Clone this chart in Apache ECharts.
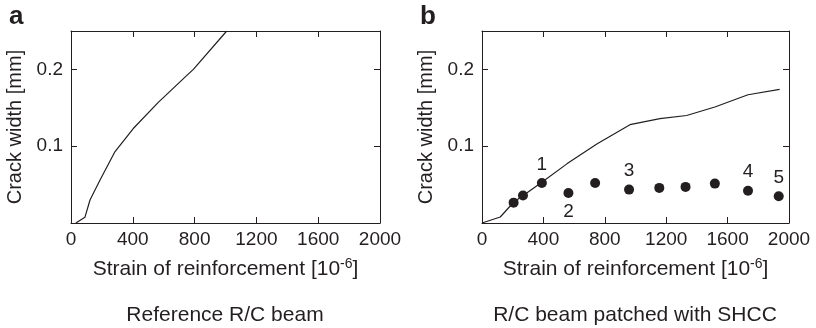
<!DOCTYPE html>
<html>
<head>
<meta charset="utf-8">
<script src="https://cdn.jsdelivr.net/npm/echarts@6/dist/echarts.min.js"></script>
<style>html,body{margin:0;padding:0;background:#fff}#c{width:816px;height:328px}</style>
</head>
<body>
<div id="c"></div>
<script>
// Panel a: reference R/C beam (strain, crack width)
const refStrain = [32, 90, 123, 188, 285, 403, 565, 738, 792, 1008];
const refCrack  = [0, 0.0074, 0.030, 0.056, 0.093, 0.123, 0.157, 0.190, 0.200, 0.250];
// Panel b: R/C beam patched with SHCC, line
const shccStrain = [0, 119, 206, 390, 553, 748, 964, 1159, 1333, 1517, 1733, 1939];
const shccCrack  = [0, 0.0078, 0.027, 0.053, 0.077, 0.103, 0.128, 0.136, 0.140, 0.151, 0.167, 0.174];
// Panel b: points
const ptStrain = [206, 267, 390, 563, 737, 958, 1155, 1326, 1517, 1733, 1933];
const ptCrack  = [0.0265, 0.0357, 0.052, 0.039, 0.052, 0.0435, 0.0457, 0.047, 0.0513, 0.042, 0.0348];
const ptLabels = ['', '', '1', '2', '', '3', '', '', '', '4', '5'];
// Axis ticks
const xTicks = [0, 400, 800, 1200, 1600, 2000];
const yTicks = [0.1, 0.2];

const INK = '#231f20';
const FONT = 'Liberation Sans, Arial, Helvetica, sans-serif';

const chart = echarts.init(document.getElementById('c'));

function xAx(gi, pos) {
  const main = pos === 'bottom';
  return {
    type: 'value', gridIndex: gi, position: pos,
    min: xTicks[0], max: xTicks[xTicks.length - 1], interval: xTicks[1] - xTicks[0],
    axisLine: {show: true, onZero: false, lineStyle: {color: INK, width: 1}},
    axisTick: {show: true, inside: true, length: 6, lineStyle: {color: INK, width: 1}},
    axisLabel: {show: main, color: INK, fontSize: 19, fontFamily: FONT, margin: 7,
      formatter: v => String(Math.round(v))},
    splitLine: {show: false},
    name: main ? '{n|Strain of reinforcement [10}{s|-6}{n|]}' : '',
    nameLocation: 'middle', nameGap: 34,
    nameTextStyle: {
      rich: {
        n: {fontSize: 21, color: INK, fontFamily: FONT, verticalAlign: 'bottom', lineHeight: 23},
        s: {fontSize: 14, color: INK, fontFamily: FONT, verticalAlign: 'top', lineHeight: 23}
      }
    }
  };
}
function yAx(gi, pos) {
  const main = pos === 'left';
  return {
    type: 'value', gridIndex: gi, position: pos,
    min: 0, max: 0.25, interval: 0.1,
    axisLine: {show: true, onZero: false, lineStyle: {color: INK, width: 1}},
    axisTick: {show: true, inside: true, length: 6, lineStyle: {color: INK, width: 1}},
    axisLabel: {
      show: main, color: INK, fontSize: 19, fontFamily: FONT, margin: 8,
      formatter: v => {
        const t = yTicks.find(k => Math.abs(k - v) < 1e-9);
        return t === undefined ? '' : t.toFixed(1);
      }
    },
    splitLine: {show: false},
    name: main ? 'Crack width [mm]' : '',
    nameLocation: 'middle', nameGap: 46,
    nameTextStyle: {fontSize: 20, color: INK, fontFamily: FONT}
  };
}

const scatterData = ptStrain.map((x, i) => ({
  value: [x, ptCrack[i]],
  label: {show: ptLabels[i] !== '', formatter: ptLabels[i], position: ptLabels[i] === '2' ? 'bottom' : 'top'}
}));

chart.setOption({
  animation: false,
  grid: [
    {left: 71, right: 436, top: 31, bottom: 105},
    {left: 482, right: 27, top: 31, bottom: 105}
  ],
  xAxis: [xAx(0, 'bottom'), xAx(0, 'top'), xAx(1, 'bottom'), xAx(1, 'top')],
  yAxis: [yAx(0, 'left'), yAx(0, 'right'), yAx(1, 'left'), yAx(1, 'right')],
  series: [
    {
      type: 'line', xAxisIndex: 0, yAxisIndex: 0, symbol: 'none', clip: true,
      lineStyle: {color: INK, width: 1.2},
      data: refStrain.map((x, i) => [x, refCrack[i]])
    },
    {
      type: 'line', xAxisIndex: 2, yAxisIndex: 2, symbol: 'none', clip: true,
      lineStyle: {color: INK, width: 1.2},
      data: shccStrain.map((x, i) => [x, shccCrack[i]])
    },
    {
      type: 'scatter', xAxisIndex: 2, yAxisIndex: 2, symbol: 'circle', symbolSize: 10,
      itemStyle: {color: INK, opacity: 1},
      label: {color: INK, fontSize: 19, fontFamily: FONT, distance: 4},
      data: scatterData, z: 5
    }
  ],
  graphic: [
    {type: 'text', left: 9, top: 4, style: {text: 'a', font: 'bold 26px ' + FONT, fill: INK}},
    {type: 'text', left: 420, top: 4, style: {text: 'b', font: 'bold 26px ' + FONT, fill: INK}},
    {type: 'text', x: 225, y: 315, style: {text: 'Reference R/C beam', font: '21px ' + FONT, fill: INK, align: 'center', verticalAlign: 'middle'}},
    {type: 'text', x: 635, y: 315, style: {text: 'R/C beam patched with SHCC', font: '21px ' + FONT, fill: INK, align: 'center', verticalAlign: 'middle'}}
  ]
});
</script>
</body>
</html>
